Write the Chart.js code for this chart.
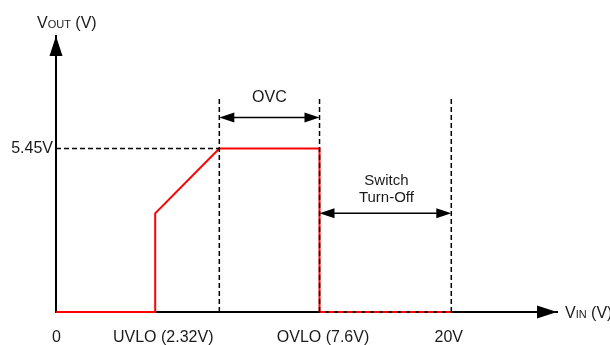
<!DOCTYPE html>
<html>
<head>
<meta charset="utf-8">
<script src="https://cdn.jsdelivr.net/npm/chart.js@4/dist/chart.umd.min.js"></script>
<style>
  html, body { margin: 0; padding: 0; background: #fff; }
  #wrap { width: 610px; height: 345px; }
</style>
</head>
<body>
<div id="wrap"><canvas id="c"></canvas></div>
<script>
// schematic x positions (not to scale), y in volts
const outX = [0, 9.9, 9.9, 16.3, 26.3, 26.3];
const outY = [0, 0, 3.29, 5.45, 5.45, 0];
const offX = [26.3, 39.45];
const offY = [0, 0];
const markerX = [16.3, 26.3, 39.45];
const markerTop = 7.1;
const vOutLevel = 5.45;
const xTickLabels = ['0', 'UVLO (2.32V)', 'OVLO (7.6V)', '20V'];
const xTickPos = [0.05, 10.7, 26.65, 39.2];
const yTickLabels = ['5.45V'];
const yTickPos = [5.45];
const ovcY = 6.48;
const turnOffY = 3.29;

const FONT = '"Liberation Sans", Arial, sans-serif';
const INK = '#1a1a1a';
const RED = '#ff0000';

const pts = (xs, ys) => xs.map((x, i) => ({ x, y: ys[i] }));

const datasets = [
  { data: pts([0, markerX[0]], [vOutLevel, vOutLevel]), borderColor: '#000', borderWidth: 1.5, borderDash: [5, 3] },
  ...markerX.map(x => ({ data: pts([x, x], [0, markerTop]), borderColor: '#000', borderWidth: 1.5, borderDash: [5, 3] })),
  { data: pts(offX, offY), borderColor: RED, borderWidth: 2, borderDash: [6, 3] },
  { data: pts(outX, outY), borderColor: RED, borderWidth: 2 }
].map(d => ({ ...d, showLine: true, pointRadius: 0, fill: false, tension: 0, clip: false }));

function head(ctx, x, y, dir, len, w) {
  // dir: unit vector of pointing direction
  const [dx, dy] = dir;
  ctx.beginPath();
  ctx.moveTo(x, y);
  ctx.lineTo(x - dx * len - dy * w / 2, y - dy * len + dx * w / 2);
  ctx.lineTo(x - dx * len + dy * w / 2, y - dy * len - dx * w / 2);
  ctx.closePath();
  ctx.fill();
}

function dimArrow(ctx, x1, x2, y) {
  ctx.beginPath();
  ctx.moveTo(x1 + 10, y);
  ctx.lineTo(x2 - 10, y);
  ctx.stroke();
  head(ctx, x1, y, [-1, 0], 15, 10);
  head(ctx, x2, y, [1, 0], 15, 10);
}

function subText(ctx, x, y, main, sub, tail) {
  ctx.textAlign = 'left';
  ctx.textBaseline = 'alphabetic';
  ctx.font = '16px ' + FONT;
  ctx.fillText(main, x, y);
  x += ctx.measureText(main).width;
  ctx.font = '11px ' + FONT;
  ctx.fillText(sub, x, y);
  x += ctx.measureText(sub).width;
  ctx.font = '16px ' + FONT;
  ctx.fillText(tail, x, y);
}

const decor = {
  id: 'decor',
  afterDatasetsDraw(chart) {
    const { ctx, chartArea: a, scales: { x, y } } = chart;
    ctx.save();
    ctx.fillStyle = '#000';
    ctx.strokeStyle = '#000';
    ctx.lineWidth = 2;
    // axis arrowheads
    head(ctx, a.left, a.top, [0, -1], 20, 13);
    head(ctx, a.right, a.bottom, [1, 0], 20, 13);
    // dimension arrows
    ctx.lineWidth = 1.5;
    const kx = x.getPixelForValue(markerX[0]);
    const ox = x.getPixelForValue(markerX[1]);
    const tx = x.getPixelForValue(markerX[2]);
    dimArrow(ctx, kx, ox, y.getPixelForValue(ovcY));
    dimArrow(ctx, ox, tx, y.getPixelForValue(turnOffY));
    // labels
    ctx.fillStyle = INK;
    ctx.font = '16px ' + FONT;
    ctx.textAlign = 'center';
    ctx.textBaseline = 'middle';
    ctx.fillText('OVC', (kx + ox) / 2, y.getPixelForValue(markerTop) - 1);
    ctx.font = '15px ' + FONT;
    ctx.fillText('Switch', (ox + tx) / 2 + 1, y.getPixelForValue(turnOffY) - 32);
    ctx.fillText('Turn-Off', (ox + tx) / 2 + 1, y.getPixelForValue(turnOffY) - 15);
    subText(ctx, a.left - 19, a.top - 8, 'V', 'OUT', ' (V)');
    subText(ctx, a.right + 8, a.bottom + 6, 'V', 'IN', ' (V)');
    ctx.restore();
  }
};

new Chart(document.getElementById('c'), {
  type: 'scatter',
  data: { datasets },
  plugins: [decor],
  options: {
    responsive: true,
    maintainAspectRatio: false,
    animation: false,
    layout: { padding: { top: 36, right: 53, left: 0, bottom: 0 } },
    plugins: { legend: { display: false }, tooltip: { enabled: false } },
    scales: {
      x: {
        type: 'linear', min: 0, max: 50,
        grid: { display: false, drawTicks: false },
        border: { color: '#000', width: 2 },
        afterBuildTicks: s => { s.ticks = xTickPos.map(v => ({ value: v })); },
        afterFit: s => { s.height = 33; },
        ticks: {
          autoSkip: false, maxRotation: 0, padding: 16, color: INK,
          font: { family: FONT, size: 16 },
          callback: (v, i) => xTickLabels[i]
        }
      },
      y: {
        type: 'linear', min: 0, max: 9.2,
        grid: { display: false, drawTicks: false },
        border: { color: '#000', width: 2 },
        afterBuildTicks: s => { s.ticks = yTickPos.map(v => ({ value: v })); },
        afterFit: s => { s.width = 56; },
        ticks: {
          autoSkip: false, padding: 3, color: INK,
          font: { family: FONT, size: 16 },
          callback: (v, i) => yTickLabels[i]
        }
      }
    }
  }
});
</script>
</body>
</html>
